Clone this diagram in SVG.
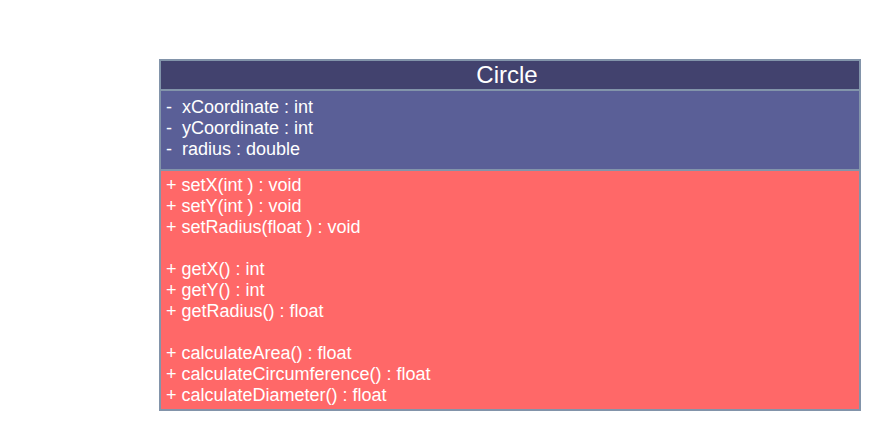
<svg xmlns="http://www.w3.org/2000/svg" width="880" height="430" viewBox="0 0 880 430">
<style>
.t{font-family:"Liberation Sans",Arial,sans-serif;font-size:18px;fill:#ffffff}
.h{font-family:"Liberation Sans",Arial,sans-serif;font-size:24px;fill:#ffffff}
.b{stroke:#8294aa;stroke-width:2}
</style>
<rect width="880" height="430" fill="#ffffff"/>
<g id="Circle">
<rect x="160" y="60" width="700" height="30" fill="#42426e" class="b"/>
<rect x="160" y="90" width="700" height="80" fill="#5a5f97" class="b"/>
<rect x="160" y="170" width="700" height="240" fill="#ff6868" class="b"/>
<text class="h" x="507" y="83" text-anchor="middle">Circle</text>
<text class="t" x="166" y="113">-</text><text class="t" x="182" y="113">xCoordinate : int</text>
<text class="t" x="166" y="134">-</text><text class="t" x="182" y="134">yCoordinate : int</text>
<text class="t" x="166" y="155">-</text><text class="t" x="182" y="155">radius : double</text>
<text class="t" x="166" y="191">+ setX(int ) : void</text>
<text class="t" x="166" y="212">+ setY(int ) : void</text>
<text class="t" x="166" y="233">+ setRadius(float ) : void</text>
<text class="t" x="166" y="275">+ getX() : int</text>
<text class="t" x="166" y="296">+ getY() : int</text>
<text class="t" x="166" y="317">+ getRadius() : float</text>
<text class="t" x="166" y="359">+ calculateArea() : float</text>
<text class="t" x="166" y="380">+ calculateCircumference() : float</text>
<text class="t" x="166" y="401">+ calculateDiameter() : float</text>
</g>
<g id="connectors"></g>
</svg>
